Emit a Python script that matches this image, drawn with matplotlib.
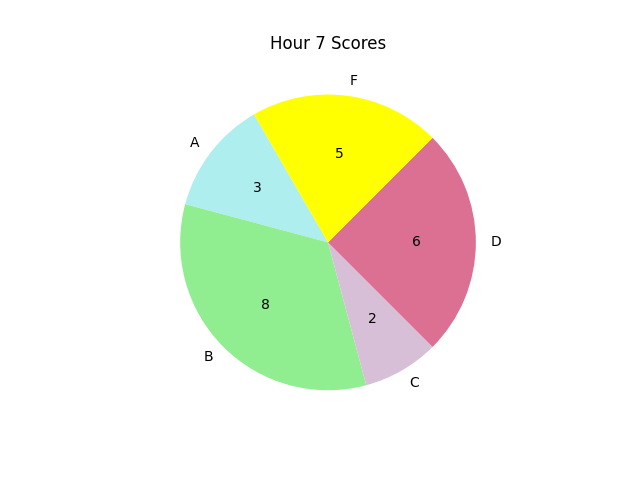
import matplotlib
matplotlib.use('Agg')
import matplotlib.pyplot as plt

labels = ['A', 'B', 'C', 'D', 'F']
scores = [3, 8, 2, 6, 5]
colors = ['paleturquoise', 'lightgreen', 'thistle', 'palevioletred', 'yellow']

total = sum(scores)


def show_count(pct):
    return '{:d}'.format(int(round(pct * total / 100.0)))


fig, ax = plt.subplots(figsize=(6.4, 4.8), dpi=100)
ax.pie(scores, labels=labels, colors=colors, autopct=show_count, startangle=120)
ax.set_title('Hour 7 Scores')
fig.savefig('out.png')
